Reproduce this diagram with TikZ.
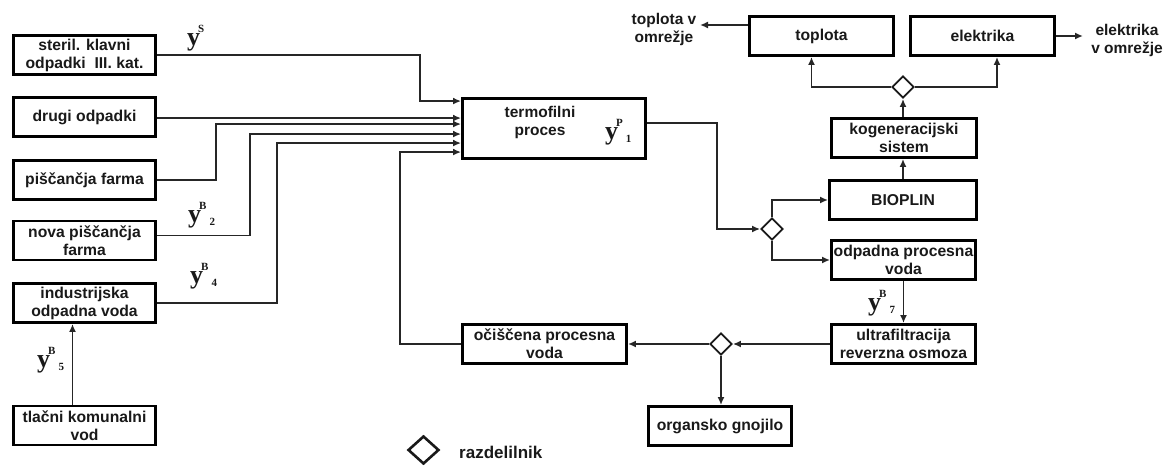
\documentclass[tikz,border=0pt]{standalone}
\usepackage{fontspec}
\setmainfont{Liberation Sans}
\newfontfamily\tms{Liberation Serif}
\usetikzlibrary{arrows.meta,shapes.geometric,calc}
% flow variable: bold y with superscript and shifted subscript
\newcommand\ylab[2]{{\tms\bfseries\fontsize{26}{26}\selectfont y}\kern-2pt\raisebox{13pt}{\tms\bfseries\fontsize{11}{11}\selectfont #1}\kern3pt\raisebox{-3pt}{\tms\bfseries\fontsize{11}{11}\selectfont #2}}
\begin{document}
\begin{tikzpicture}[x=1pt,y=-1pt,
  box/.style={draw=black, line width=2.9pt, minimum width=142pt, minimum height=39pt,
    inner sep=0pt, align=center, text=black!90, font=\bfseries\fontsize{15.7}{18}\selectfont},
  txt/.style={inner sep=0pt, align=center, text=black!90, font=\bfseries\fontsize{15.5}{18}\selectfont},
  split/.style={diamond, draw=black!90, line width=1.8pt, minimum width=22pt, minimum height=22pt, inner sep=0pt},
  conn/.style={line width=1.8pt, draw=black!85},
  arr/.style={conn, -{Latex[length=8pt,width=7pt]}},
  ytag/.style={anchor=base west, inner sep=0pt, text=black!90}]
\useasboundingbox (0,0) rectangle (1163,466);

% sources
\node[box] (ster)  at (84.5,55)    {steril. klavni\\odpadki\ \ III. kat.};
\node[box] (drugi) at (84.5,117)   {drugi odpadki};
\node[box] (pisc)  at (84.5,180)   {piščančja farma};
\node[box] (nova)  at (84.5,240.5) {nova piščančja\\farma};
\node[box] (ind)   at (84.5,303)   {industrijska\\odpadna voda};
\node[box] (tlac)  at (84.5,425.5) {tlačni komunalni\\vod};

% main process
\node[box, minimum width=183pt, minimum height=60pt] (term) at (554,128.5) {};
\node[txt] (termtxt) at (540,122) {termofilni\\proces};

% energy branch
\node[box, minimum width=144pt] (toplota) at (821.5,36) {toplota};
\node[box, minimum width=144pt] (elek)    at (982.5,36) {elektrika};
\node[box, minimum width=145pt] (kogen)   at (904,138)  {kogeneracijski\\sistem};
\node[box, minimum width=147pt] (bio)     at (903,200)  {BIOPLIN};

% water branch
\node[box, minimum width=144pt] (odp)   at (903.5,260) {odpadna procesna\\voda};
\node[box, minimum width=144pt] (ultra) at (903.5,344) {ultrafiltracija\\reverzna osmoza};
\node[box, minimum width=164pt] (ocisc) at (544.5,344) {očiščena procesna\\voda};
\node[box, minimum width=143pt] (org)   at (720,426)   {organsko gnojilo};

% splitters
\node[split] (d1) at (772,229) {};
\node[split] (d2) at (903,87) {};
\node[split] (d3) at (721,344) {};

% outputs to the grid
\node[txt] (tvtxt) at (664,29) {toplota v\\omrežje};
\node[txt] (evtxt) at (1127,40) {elektrika\\v omrežje};
\coordinate (tvend) at (700,25);
\coordinate (evend) at (1083,36);

% inlets of the thermophilic process
\coordinate (in1) at ($(term.north west)+(0,4)$);
\coordinate (in2) at ($(term.north west)+(0,21)$);
\coordinate (in3) at ($(term.north west)+(0,27)$);
\coordinate (in4) at ($(term.north west)+(0,37)$);
\coordinate (in5) at ($(term.north west)+(0,46)$);
\coordinate (in6) at ($(term.north west)+(0,55)$);

\draw[arr] (ster.east) -| ($(in1)+(-41,0)$) -- (in1);
\draw[arr] (drugi.east |- in2) -- (in2);
\draw[arr] (pisc.east) -| ($(in3)+(-245,0)$) -- (in3);
\draw[arr] ($(nova.east)+(0,-5)$) -| ($(in4)+(-211,0)$) -- (in4);
\draw[arr] (ind.east) -| ($(in5)+(-184,0)$) -- (in5);
\draw[arr] (ocisc.west) -| ($(in6)+(-61,0)$) -- (in6);
\draw[arr] ($(tlac.north)+(-12,0)$) -- ($(ind.south)+(-12,0)$);

\draw[arr] ($(term.east)+(0,-5.5)$) -| ($(d1.west)+(-43,0)$) -- (d1.west);
\draw[arr] (d1.north) |- (bio.west);
\draw[arr] (d1.south) |- (odp.west);
\draw[arr] (bio.north) -- (bio.north |- kogen.south);
\draw[arr] (d2.south |- kogen.north) -- (d2.south);
\draw[arr] (d2.west) -| ($(toplota.south)+(-10,0)$);
\draw[arr] (d2.east) -| ($(elek.south)+(14.5,0)$);
\draw[arr] ($(toplota.west)+(0,-11)$) -- (tvend);
\draw[arr] (elek.east) -- (evend);

\draw[arr] (odp.south) -- (ultra.north);
\draw[arr] (ultra.west) -- (d3.east);
\draw[arr] (d3.west) -- (ocisc.east);
\draw[arr] (d3.south) -- (d3.south |- org.north);

% flow labels
\node[ytag] (yS)  at (187,45)  {\ylab{S}{}};
\node[ytag] (yB2) at (188,222) {\ylab{B}{2}};
\node[ytag] (yB4) at (190,283) {\ylab{B}{4}};
\node[ytag] (yB5) at (37,367)  {\ylab{B}{5}};
\node[ytag] (yP1) at (605,139) {\ylab{P}{1}};
\node[ytag] (yB7) at (868,310) {\ylab{B}{7}};

% legend
\node[split, line width=2.6pt, minimum width=31pt, minimum height=28pt] (leg) at (423.5,450) {};
\node[txt, anchor=west, font=\bfseries\fontsize{17}{18}\selectfont] (legtxt) at (459,452) {razdelilnik};
\end{tikzpicture}
\end{document}
